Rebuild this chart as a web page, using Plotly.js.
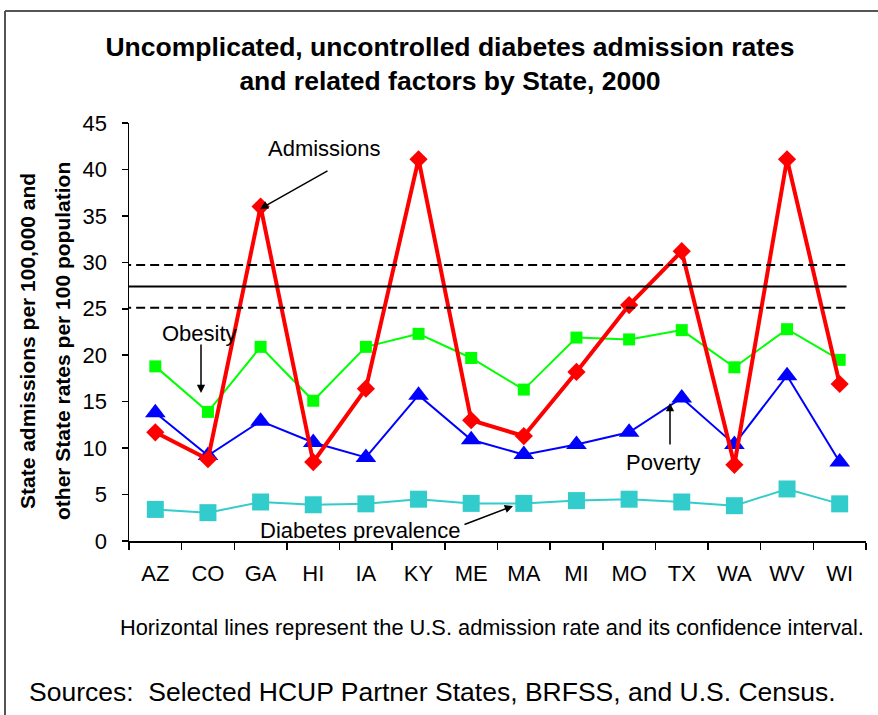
<!DOCTYPE html>
<html>
<head>
<meta charset="utf-8">
<script src="https://cdn.plot.ly/plotly-3.0.1.min.js"></script>
<style>
html,body{margin:0;padding:0;background:#fff;}
#chart{width:878px;height:715px;}
</style>
</head>
<body>
<div id="chart"></div>
<script>
const states = ["AZ","CO","GA","HI","IA","KY","ME","MA","MI","MO","TX","WA","WV","WI"];
const admissions = [11.7, 8.8, 36.0, 8.5, 16.4, 41.1, 13.0, 11.3, 18.2, 25.4, 31.2, 8.2, 41.1, 16.9];
const obesity = [18.8, 13.9, 20.9, 15.1, 20.9, 22.3, 19.7, 16.3, 21.9, 21.7, 22.7, 18.7, 22.8, 19.5];
const poverty = [13.8, 9.2, 12.9, 10.6, 9.0, 15.7, 10.9, 9.3, 10.4, 11.7, 15.4, 10.4, 17.8, 8.5];
const diabetes = [3.4, 3.05, 4.2, 3.9, 4.0, 4.5, 4.05, 4.05, 4.35, 4.5, 4.2, 3.8, 5.6, 4.0];
const usRate = 27.4;
const usLower = 25.1;
const usUpper = 29.7;
const yTicks = [0,5,10,15,20,25,30,35,40,45];

const FONT = "Liberation Sans, Arial, sans-serif";

const traces = [
  {x: states, y: diabetes, type: "scatter", mode: "lines+markers", name: "Diabetes prevalence",
   line: {color: "#33CCCC", width: 2}, marker: {symbol: "square", size: 17, color: "#33CCCC"}},
  {x: states, y: obesity, type: "scatter", mode: "lines+markers", name: "Obesity",
   line: {color: "#00FF00", width: 2}, marker: {symbol: "square", size: 12, color: "#00FF00"}},
  {x: states, y: poverty, type: "scatter", mode: "lines+markers", name: "Poverty",
   line: {color: "#0000FF", width: 2}, marker: {symbol: "triangle-up", size: 18, color: "#0000FF"}},
  {x: states, y: admissions, type: "scatter", mode: "lines+markers", name: "Admissions",
   line: {color: "#FF0000", width: 4}, marker: {symbol: "diamond", size: 14, color: "#FF0000"}}
];

// pixel helpers for paper coordinates (plot area: x 129..866, y 123..541)
const L = 129, R = 866, T = 123, B = 541;
const px = v => (v - L) / (R - L);
const py = v => (B - v) / (B - T);

const shapes = [
  {type: "line", xref: "x", yref: "y", x0: -0.63, x1: 13.13, y0: usRate, y1: usRate, line: {color: "#000", width: 2}},
  {type: "line", xref: "x", yref: "y", x0: -0.63, x1: 13.13, y0: usUpper, y1: usUpper, line: {color: "#000", width: 2, dash: "9px,5px"}},
  {type: "line", xref: "x", yref: "y", x0: -0.63, x1: 13.13, y0: usLower, y1: usLower, line: {color: "#000", width: 2, dash: "9px,5px"}},
  // outer frame (top and left)
  {type: "line", xref: "paper", yref: "paper", x0: px(5), x1: px(900), y0: py(11), y1: py(11), line: {color: "#555", width: 2}},
  {type: "line", xref: "paper", yref: "paper", x0: px(5), x1: px(5), y0: py(11), y1: py(740), line: {color: "#555", width: 2}}
];

const annFont = {family: FONT, size: 22, color: "#000"};
function label(x, y, text, font, extra) {
  return Object.assign({xref: "paper", yref: "paper", x: px(x), y: py(y), text: text, showarrow: false,
    xanchor: "center", yanchor: "middle", font: font}, extra || {});
}
function arrow(x0, y0, x1, y1) {
  return {xref: "paper", yref: "paper", x: px(x1), y: py(y1), ax: px(x0), ay: py(y0), axref: "paper", ayref: "paper",
    text: "", showarrow: true, arrowhead: 2, arrowsize: 1.1, arrowwidth: 1.5, arrowcolor: "#000"};
}
const annotations = [
  label(324, 148, "Admissions", annFont),
  arrow(329, 170, 260, 209),
  label(199, 333, "Obesity", annFont),
  arrow(201, 343, 201, 393),
  label(663, 462, "Poverty", annFont),
  arrow(670, 446, 670, 403),
  label(360, 530, "Diabetes prevalence", annFont),
  arrow(463, 525, 513, 506),
  // y-axis title (two lines)
  label(27, 341, "<b>State admissions per 100,000 and</b>", {family: FONT, size: 21, color: "#000"}, {textangle: -90}),
  label(62, 341, "<b>other State rates per 100 population</b>", {family: FONT, size: 21, color: "#000"}, {textangle: -90}),
  // footnotes
  label(866, 627, "Horizontal lines represent the U.S. admission rate and its confidence interval.",
        {family: FONT, size: 21.8, color: "#000"}, {xanchor: "right"}),
  label(27, 692, "Sources:  Selected HCUP Partner States, BRFSS, and U.S. Census.",
        {family: FONT, size: 26.5, color: "#000"}, {xanchor: "left"})
];

const layout = {
  width: 878, height: 715,
  margin: {l: L, r: 878 - R, t: T, b: 715 - B, pad: 0},
  paper_bgcolor: "#fff", plot_bgcolor: "#fff",
  showlegend: false,
  title: {text: "<b>Uncomplicated, uncontrolled diabetes admission rates<br>and related factors by State, 2000</b>",
          x: 450 / 878, xanchor: "center", y: 1 - 56 / 715, yanchor: "middle",
          font: {family: FONT, size: 26.5, color: "#000"}},
  xaxis: {type: "category", categoryorder: "array", categoryarray: states, range: [-0.5, 13.5],
          showgrid: false, zeroline: false, showline: true, linecolor: "#000", linewidth: 1.5,
          ticks: "outside", tickson: "boundaries", ticklen: 7, tickcolor: "#000", tickwidth: 1.5,
          ticklabelstandoff: 12,
          tickfont: {family: FONT, size: 22, color: "#000"}},
  yaxis: {range: [0, 45], tickvals: yTicks, ticktext: yTicks.map(String),
          showgrid: false, zeroline: false, showline: true, linecolor: "#000", linewidth: 1.5,
          ticks: "outside", ticklen: 6, tickcolor: "#000", tickwidth: 1.5,
          ticklabelstandoff: 10,
          tickfont: {family: FONT, size: 22, color: "#000"}},
  shapes: shapes,
  annotations: annotations
};

Plotly.newPlot("chart", traces, layout, {displayModeBar: false, staticPlot: true});
</script>
</body>
</html>
